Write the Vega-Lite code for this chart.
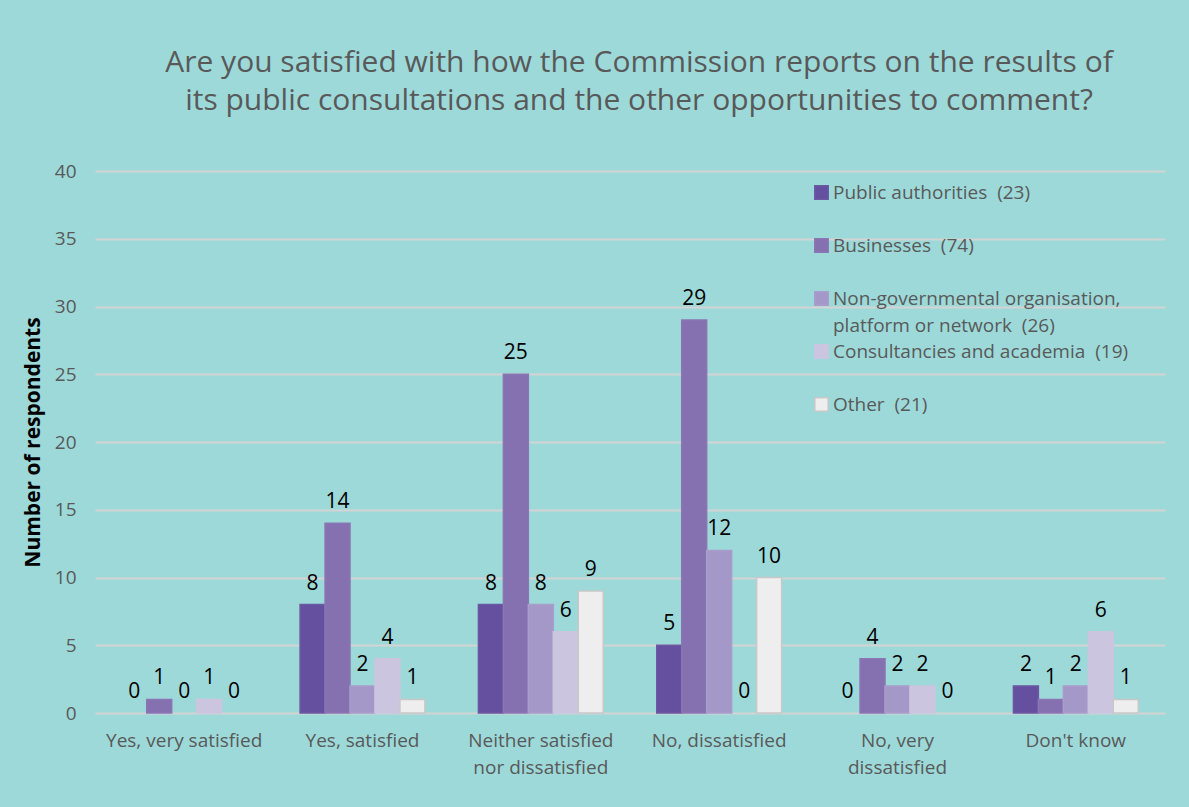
{
  "$schema": "https://vega.github.io/schema/vega-lite/v6.json",
  "width": 1070,
  "height": 542,
  "autosize": {"type": "none"},
  "padding": {"left": 95, "top": 171, "right": 24, "bottom": 94},
  "background": "#9DD9D9",
  "title": {
    "text": ["Are you satisfied with how the Commission reports on the results of", "its public consultations and the other opportunities to comment?"],
    "font": "Open Sans",
    "fontSize": 30,
    "fontWeight": "normal",
    "color": "#595959",
    "lineHeight": 38,
    "anchor": "middle",
    "dx": 9,
    "offset": 46
  },
  "config": {
    "view": {"stroke": null},
    "font": "Open Sans",
    "style": {"guide-label": {"lineHeight": 27}}
  },
  "data": {
    "values": [
      {"answer": "Yes, very satisfied", "series": "Public authorities (23)", "count": 0},
      {"answer": "Yes, very satisfied", "series": "Businesses (74)", "count": 1},
      {"answer": "Yes, very satisfied", "series": "Non-governmental organisation, platform or network (26)", "count": 0},
      {"answer": "Yes, very satisfied", "series": "Consultancies and academia (19)", "count": 1},
      {"answer": "Yes, very satisfied", "series": "Other (21)", "count": 0},
      {"answer": "Yes, satisfied", "series": "Public authorities (23)", "count": 8},
      {"answer": "Yes, satisfied", "series": "Businesses (74)", "count": 14},
      {"answer": "Yes, satisfied", "series": "Non-governmental organisation, platform or network (26)", "count": 2},
      {"answer": "Yes, satisfied", "series": "Consultancies and academia (19)", "count": 4},
      {"answer": "Yes, satisfied", "series": "Other (21)", "count": 1},
      {"answer": "Neither satisfied nor dissatisfied", "series": "Public authorities (23)", "count": 8},
      {"answer": "Neither satisfied nor dissatisfied", "series": "Businesses (74)", "count": 25},
      {"answer": "Neither satisfied nor dissatisfied", "series": "Non-governmental organisation, platform or network (26)", "count": 8},
      {"answer": "Neither satisfied nor dissatisfied", "series": "Consultancies and academia (19)", "count": 6},
      {"answer": "Neither satisfied nor dissatisfied", "series": "Other (21)", "count": 9},
      {"answer": "No, dissatisfied", "series": "Public authorities (23)", "count": 5},
      {"answer": "No, dissatisfied", "series": "Businesses (74)", "count": 29},
      {"answer": "No, dissatisfied", "series": "Non-governmental organisation, platform or network (26)", "count": 12},
      {"answer": "No, dissatisfied", "series": "Consultancies and academia (19)", "count": 0},
      {"answer": "No, dissatisfied", "series": "Other (21)", "count": 10},
      {"answer": "No, very dissatisfied", "series": "Public authorities (23)", "count": 0},
      {"answer": "No, very dissatisfied", "series": "Businesses (74)", "count": 4},
      {"answer": "No, very dissatisfied", "series": "Non-governmental organisation, platform or network (26)", "count": 2},
      {"answer": "No, very dissatisfied", "series": "Consultancies and academia (19)", "count": 2},
      {"answer": "No, very dissatisfied", "series": "Other (21)", "count": 0},
      {"answer": "Don't know", "series": "Public authorities (23)", "count": 2},
      {"answer": "Don't know", "series": "Businesses (74)", "count": 1},
      {"answer": "Don't know", "series": "Non-governmental organisation, platform or network (26)", "count": 2},
      {"answer": "Don't know", "series": "Consultancies and academia (19)", "count": 6},
      {"answer": "Don't know", "series": "Other (21)", "count": 1}
    ]
  },
  "encoding": {
    "x": {
      "field": "answer",
      "type": "nominal",
      "sort": null,
      "scale": {"paddingInner": 0.3, "paddingOuter": 0.15},
      "axis": {
        "title": null,
        "labelAngle": 0,
        "domain": false,
        "ticks": false,
        "labelPadding": 18,
        "labelFontSize": 19,
        "labelColor": "#595959",
        "labelFont": "Open Sans",
        "labelLineHeight": 27,
        "labelExpr": "datum.label == 'Neither satisfied nor dissatisfied' ? ['Neither satisfied', 'nor dissatisfied'] : datum.label == 'No, very dissatisfied' ? ['No, very', 'dissatisfied'] : datum.label"
      }
    },
    "xOffset": {
      "field": "series",
      "type": "nominal",
      "sort": null,
      "scale": {"domain": ["Public authorities (23)", "Businesses (74)", "Non-governmental organisation, platform or network (26)", "Consultancies and academia (19)", "Other (21)"]}
    },
    "y": {
      "field": "count",
      "type": "quantitative",
      "scale": {"domain": [0, 40]},
      "axis": {
        "title": "Number of respondents",
        "titleFont": "Open Sans",
        "titleFontSize": 21,
        "titleFontWeight": "bold",
        "titleColor": "#000000",
        "titlePadding": 11,
        "values": [0, 5, 10, 15, 20, 25, 30, 35, 40],
        "domain": false,
        "ticks": false,
        "labelPadding": 19,
        "labelFontSize": 19,
        "labelFont": "Open Sans",
        "labelColor": "#595959",
        "gridColor": "#D4D4D4",
        "gridWidth": 2
      }
    }
  },
  "layer": [
    {
      "transform": [{"filter": "datum.count > 0"}],
      "mark": {"type": "bar", "strokeWidth": 1.5},
      "encoding": {
        "color": {
          "field": "series",
          "type": "nominal",
          "scale": {
            "domain": ["Public authorities (23)", "Businesses (74)", "Non-governmental organisation, platform or network (26)", "Consultancies and academia (19)", "Other (21)"],
            "range": ["#65509F", "#8570B0", "#A498C8", "#CCC5E0", "#EEEEEE"]
          },
          "legend": {
            "title": null,
            "orient": "none",
            "legendX": 717,
            "legendY": 12,
            "direction": "vertical",
            "symbolType": "square",
            "symbolSize": 180,
            "symbolStrokeWidth": 1.5,
            "labelFont": "Open Sans",
            "labelFontSize": 19,
            "labelColor": "#595959",
            "labelLimit": 400,
            "labelOffset": 2,
            "rowPadding": 5,
            "labelExpr": "datum.label == 'Non-governmental organisation, platform or network (26)' ? ['Non-governmental organisation,', 'platform or network\u00a0 (26)'] : [replace(datum.label, ' (', '\u00a0 ('), '']"
          }
        },
        "stroke": {
          "field": "series",
          "type": "nominal",
          "scale": {
            "domain": ["Public authorities (23)", "Businesses (74)", "Non-governmental organisation, platform or network (26)", "Consultancies and academia (19)", "Other (21)"],
            "range": ["#6A58A3", "#8A76B4", "#A89DCB", "#CCC5E0", "#C8C8C8"]
          },
          "legend": null
        }
      }
    },
    {
      "mark": {"type": "text", "baseline": "alphabetic", "dy": -15, "fontSize": 21, "font": "Open Sans", "color": "#000000"},
      "encoding": {
        "text": {"field": "count", "type": "quantitative"}
      }
    }
  ]
}
